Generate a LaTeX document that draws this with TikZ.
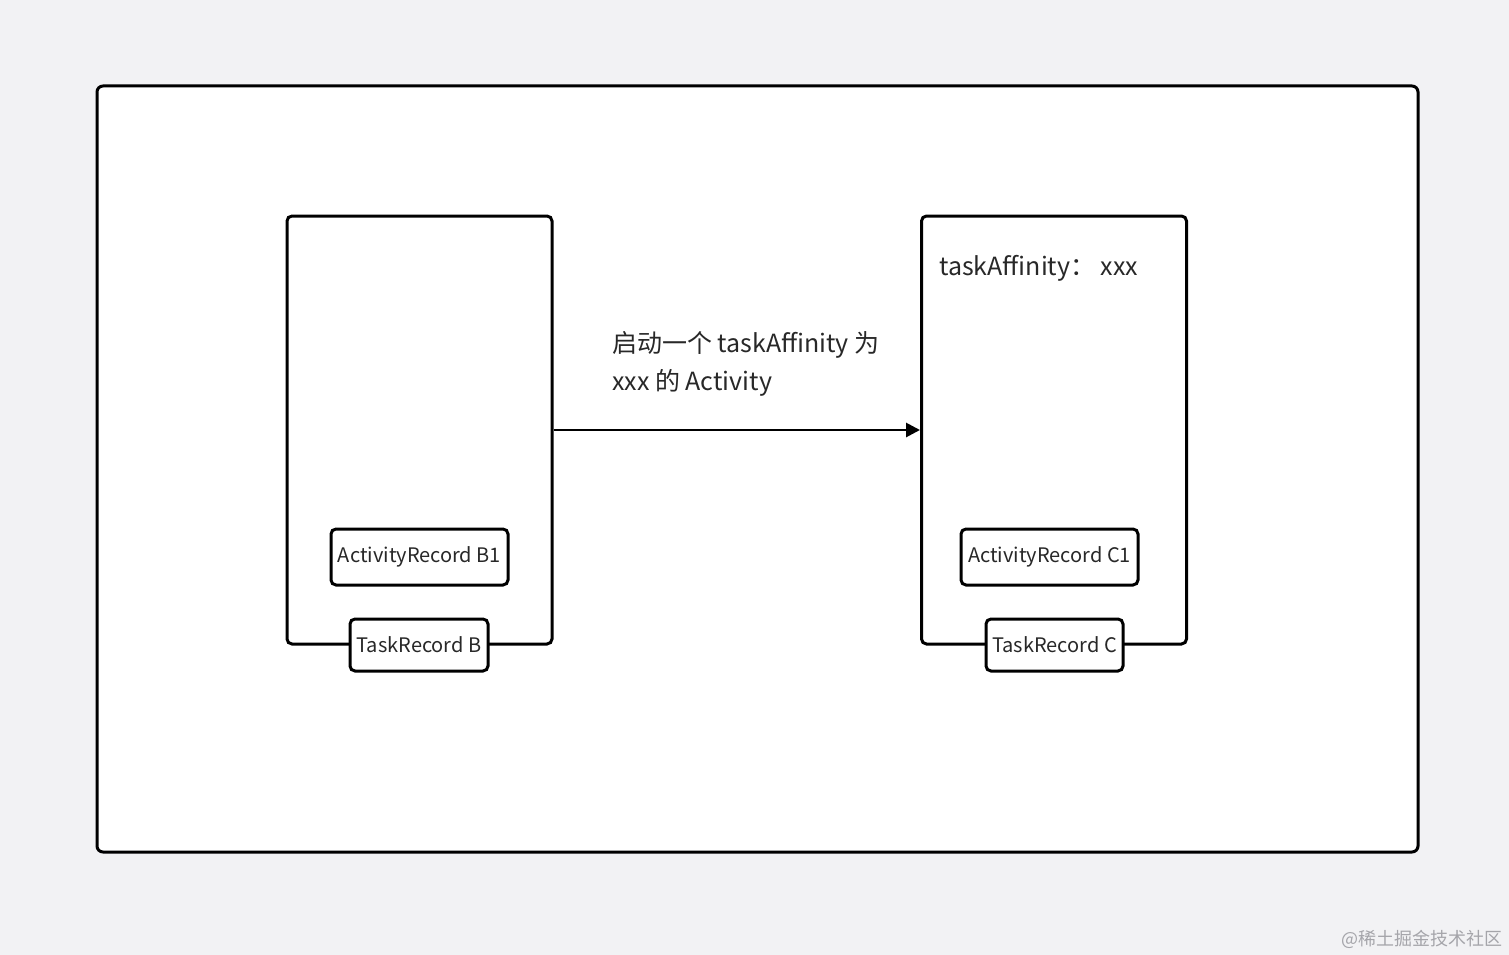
\documentclass[tikz,border=0pt]{standalone}
\usepackage{fontspec}
\setmainfont{Noto Sans CJK SC}
\usetikzlibrary{positioning,arrows.meta}
\definecolor{bggray}{RGB}{242,242,244}
\definecolor{inkgray}{RGB}{40,40,40}
\definecolor{markgray}{RGB}{165,165,170}
\tikzset{
  framebox/.style={draw,line width=3pt,rounded corners=6pt,fill=white},
  taskbox/.style={draw,line width=3pt,rounded corners=5pt,fill=white,
    minimum width=265pt,minimum height=428pt},
  recbox/.style={draw,line width=3pt,rounded corners=5pt,fill=white,inner sep=0pt,
    text=inkgray,font=\fontsize{20}{20}\selectfont},
  note/.style={text=inkgray,inner sep=0pt,font=\fontsize{25}{25}\selectfont}
}

\begin{document}
\begin{tikzpicture}[x=1pt,y=-1pt]
\fill[bggray] (0,0) rectangle (1509,955);
\useasboundingbox (0,0) rectangle (1509,955);
\node[framebox,minimum width=1321pt,minimum height=766pt] (frame) at (757.5,469) {};
% the two task stacks
\node[taskbox] (taskB) at (419.5,430) {};
\node[taskbox] (taskC) at (1054,430) {};
\node[recbox,minimum width=177pt,minimum height=56pt] (actB1) at (419.5,557) {ActivityRecord B1};
\node[recbox,minimum width=138pt,minimum height=52pt] (trB)   at (419,645)   {TaskRecord B};
\node[recbox,minimum width=177pt,minimum height=56pt] (actC1) at (1049.5,557) {ActivityRecord C1};
\node[recbox,minimum width=137pt,minimum height=52pt] (trC)   at (1054.5,645) {TaskRecord C};
\node[note,anchor=base west] (affC) at (939,275) {taskAffinity： xxx};
% launch arrow
\draw[-{Triangle[length=14pt,width=14pt]},line width=2.8pt] (taskB.east) -- (taskC.west);
\node[note,anchor=base west] (launchA) at (612,352) {启动一个 taskAffinity 为};
\node[note,anchor=base west] (launchB) at (612,390) {xxx 的 Activity};
\node[anchor=base east,inner sep=0pt,text=markgray,font=\fontsize{18}{18}\selectfont] (mark) at (1503,945) {@稀土掘金技术社区};
\end{tikzpicture}
\end{document}
